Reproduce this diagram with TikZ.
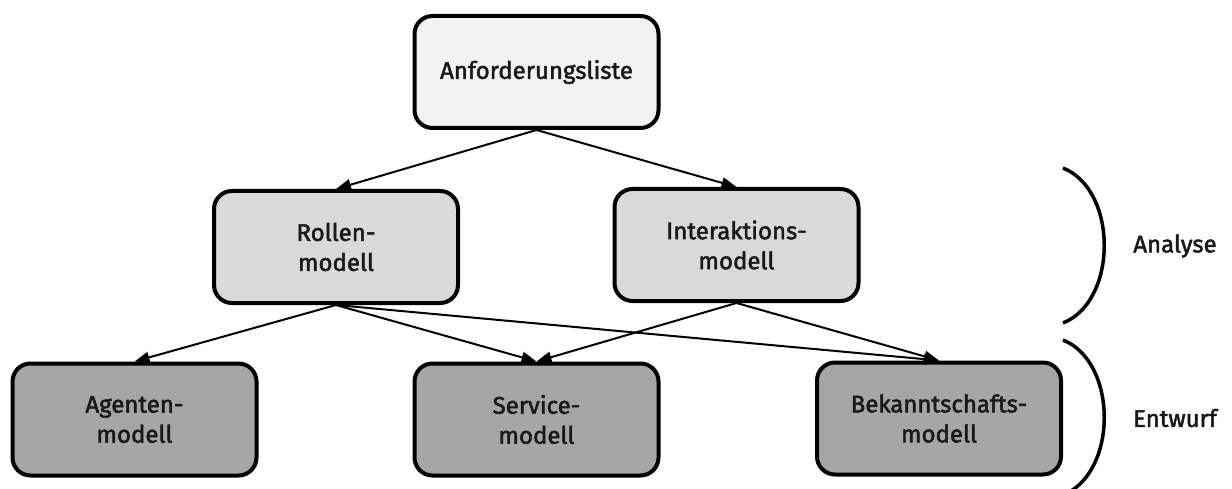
\documentclass[tikz,border=0pt]{standalone}
\usepackage{fontspec}
\setmainfont{Fira Sans}
\newfontfamily\labelfont{Fira Sans}[FakeBold=2]
\usetikzlibrary{arrows.meta}
\begin{document}
\begin{tikzpicture}[x=1pt,y=-1pt,
  box/.style={draw=black, line width=4pt, rounded corners=18pt,
    minimum width=244pt, minimum height=112pt, align=center,
    font=\labelfont\fontsize{24}{30}\selectfont, text=black!90},
  toplevel/.style={box, fill=black!5},
  midlevel/.style={box, fill=black!15},
  lowlevel/.style={box, fill=black!35},
  link/.style={line width=2pt, -{Triangle[length=15pt,width=11pt]}},
  bracket/.style={line width=3.5pt},
  phase/.style={font=\labelfont\fontsize{24}{30}\selectfont, text=black!90}]
\useasboundingbox (0,0) rectangle (1232,489);
\fill[white] (0,0) rectangle (1232,489);

\node[toplevel] (req) at (536.5,72) {Anforderungsliste};
\node[midlevel] (role) at (336,247) {Rollen-\\modell};
\node[midlevel] (inter) at (736.5,245) {Interaktions-\\modell};
\node[lowlevel] (agent) at (134.5,419.5) {Agenten-\\modell};
\node[lowlevel] (serv) at (536.5,419.5) {Service-\\modell};
\node[lowlevel] (acq) at (939,418.5) {Bekanntschafts-\\modell};

\draw[link] (req.south) -- (role.north);
\draw[link] (req.south) -- (inter.north);
\draw[link] (role.south) -- (agent.north);
\draw[link] (role.south) -- (serv.north);
\draw[link] (role.south) -- (acq.north);
\draw[link] (inter.south) -- (serv.north);
\draw[link] (inter.south) -- (acq.north);

\begin{scope}
\clip (0,0) rectangle (1232,489);
\coordinate (a1) at (1063,168);
\coordinate (a2) at (1063,323);
\coordinate (e1) at (1063,340);
\coordinate (e2) at (1063,495);
\draw[bracket] (a1) .. controls (1118,190) and (1118,301) .. (a2);
\draw[bracket] (e1) .. controls (1118,362) and (1118,473) .. (e2);
\end{scope}

\node[phase] (ana) at (1175,246) {Analyse};
\node[phase] (ent) at (1175,418) {Entwurf};
\end{tikzpicture}
\end{document}
